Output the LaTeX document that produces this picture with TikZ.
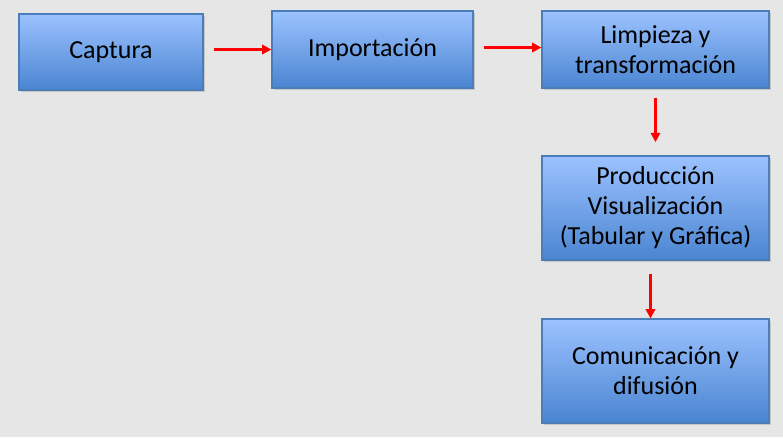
\documentclass[tikz,border=0pt]{standalone}
\usepackage{fontspec}
\setmainfont{Carlito}
\usetikzlibrary{positioning, arrows.meta, shadows}
\definecolor{fondoGris}{HTML}{E6E6E6}
\definecolor{cajaArriba}{HTML}{9CC2FF}
\definecolor{cajaAbajo}{HTML}{4A85D1}
\definecolor{cajaBorde}{HTML}{4A7EBB}
\definecolor{flechaRoja}{HTML}{FF0000}

\begin{document}
\begin{tikzpicture}[x=0.75pt, y=-0.75pt,
    paso/.style={draw=cajaBorde, line width=0.8pt, top color=cajaArriba, bottom color=cajaAbajo,
      align=center, text=black, inner sep=2pt,
      font=\fontsize{19.5}{22.5}\selectfont,
      drop shadow={shadow xshift=1.5pt, shadow yshift=-1.5pt, fill=black!45, opacity=.35}},
    flujo/.style={draw=flechaRoja, line width=2pt, -{Triangle[length=7pt, width=7pt]}}]
  % Fondo y marco
  \fill[fondoGris] (0,0) rectangle (783,437);
  \useasboundingbox (0,0) rectangle (783,437);
  % Cajas del proceso
  \node[paso, minimum width=138pt, minimum height=57pt] (captura) at (111,52) {Captura};
  \node[paso, minimum width=150.75pt, minimum height=57.75pt] (importa) at (372.5,49.5) {Importación};
  \node[paso, minimum width=170.25pt, minimum height=57.75pt] (limpia) at (655.5,49.5) {Limpieza y\\transformación};
  \node[paso, minimum width=170.25pt, minimum height=78pt] (produce) at (655.5,208) {Producción\\Visualización\\(Tabular y Gráfica)};
  \node[paso, minimum width=170.25pt, minimum height=78pt] (comunica) at (655.5,371) {Comunicación y\\difusión};
  % Flechas
  \draw[flujo, shorten <=7.5pt] (captura.east |- importa.west) -- (importa.west);
  \draw[flujo, shorten <=7.5pt] ([yshift=1.5pt]importa.east) -- ([yshift=1.5pt]limpia.west);
  \draw[flujo, shorten <=6.75pt, shorten >=10pt] (limpia.south) -- (produce.north);
  \draw[flujo, shorten <=9.75pt] ([xshift=-3.75pt]produce.south) -- ([xshift=-3.75pt]comunica.north);
\end{tikzpicture}
\end{document}
